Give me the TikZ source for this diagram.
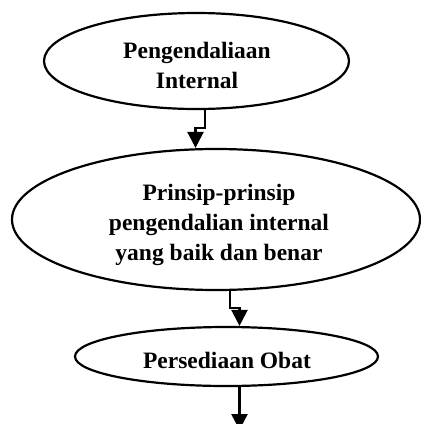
\documentclass[tikz,border=0pt]{standalone}
\usepackage{fontspec}
\setmainfont{Liberation Serif}
\usetikzlibrary{shapes.geometric,arrows.meta,calc}
\tikzset{
  oval/.style={draw, line width=2.2pt, ellipse, inner sep=0pt},
  txt/.style={inner sep=0pt, align=center, font=\fontsize{23.5}{30}\selectfont\bfseries},
  arr/.style={line width=2.4pt, -{Triangle[width=16pt,length=16pt]}}
}
\begin{document}
\begin{tikzpicture}[x=1pt,y=-1pt]
\useasboundingbox (0,0) rectangle (421,424);
\clip (0,0) rectangle (421,424);
\node[oval, minimum width=305pt, minimum height=96pt] (top) at (196.5,61) {};
\node[oval, minimum width=408pt, minimum height=141pt] (mid) at (216,219.5) {};
\node[oval, minimum width=303pt, minimum height=59pt] (bot) at (226.5,356.5) {};
\node[txt] (toptext) at (197,65) {Pengendaliaan\\Internal};
\node[txt] (midtext) at (219,225) {Prinsip-prinsip\\pengendalian internal\\yang baik dan benar};
\node[txt] (bottext) at (227,360) {Persediaan Obat};
\coordinate (a1) at (205,128);
\coordinate (a2) at (195.5,128);
\coordinate (b1) at (230,308);
\coordinate (b2) at (239.5,308);
\coordinate (c1) at (239.5,430);
\draw[arr] (top.south -| a1) -- (a1) -- (a2) -- (a2 |- mid.north);
\draw[arr] (mid.south -| b1) -- (b1) -- (b2) -- (b2 |- bot.north);
\draw[arr] (bot.south -| c1) -- (c1);
\end{tikzpicture}
\end{document}
